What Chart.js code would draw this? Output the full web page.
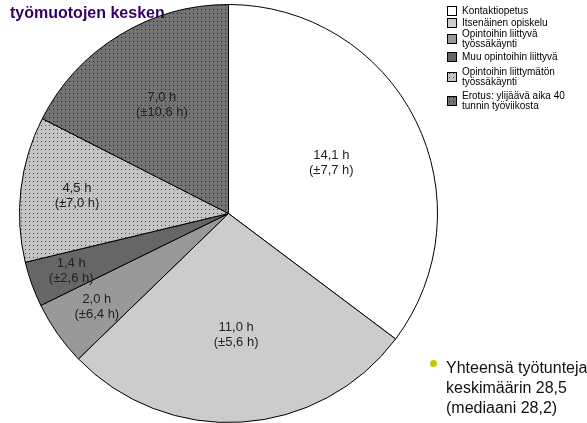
<!DOCTYPE html>
<html>
<head>
<meta charset="utf-8">
<script src="https://cdn.jsdelivr.net/npm/chart.js@4/dist/chart.umd.min.js"></script>
<style>
  html, body { margin: 0; padding: 0; background: #fff; overflow: hidden; }
  #wrap { position: relative; width: 587px; height: 423px; overflow: hidden; }
  #title {
    position: absolute; left: 10px; top: -19px; z-index: 2;
    font: bold 16px "Liberation Sans", Arial, sans-serif; line-height: 21px;
    color: #330066; white-space: nowrap;
  }
  #note {
    position: absolute; left: 446px; top: 358px; z-index: 2;
    font: 16px "Liberation Sans", Arial, sans-serif; line-height: 20px;
    color: #111; white-space: nowrap;
  }
  #dot {
    position: absolute; left: 430px; top: 360px; width: 7px; height: 7px;
    border-radius: 50%; background: #c8c800; z-index: 2;
  }
</style>
</head>
<body>
<div id="wrap">
  <div id="title">Keskimääräisen työviikon jakautuminen eri<br>työmuotojen kesken</div>
  <canvas id="chartTyomuodot" width="587" height="423"></canvas>
  <div id="dot"></div>
  <div id="note">Yhteensä työtunteja<br>keskimäärin 28,5<br>(mediaani 28,2)</div>
</div>
<script>
// Datos del gráfico
const categories = ['Kontaktiopetus', 'Itsenäinen opiskelu', 'Opintoihin liittyvä työssäkäynti',
  'Muu opintoihin liittyvä', 'Opintoihin liittymätön työssäkäynti', 'Erotus: ylijäävä aika 40 tunnin työviikosta'];
const legendLines = [
  ['Kontaktiopetus'],
  ['Itsenäinen opiskelu'],
  ['Opintoihin liittyvä', 'työssäkäynti'],
  ['Muu opintoihin liittyvä'],
  ['Opintoihin liittymätön', 'työssäkäynti'],
  ['Erotus: ylijäävä aika 40', 'tunnin työviikosta']
];
const hours = [14.1, 11.0, 2.0, 1.4, 4.5, 7.0];
const deviations = [7.7, 5.6, 6.4, 2.6, 7.0, 10.6];

const fmt = v => v.toFixed(1).replace('.', ',');

// patrón de puntos
function dotted(base, dotColor) {
  const c = document.createElement('canvas');
  c.width = 4; c.height = 4;
  const g = c.getContext('2d');
  g.fillStyle = base;
  g.fillRect(0, 0, 4, 4);
  g.fillStyle = dotColor;
  g.fillRect(1, 1, 1, 1);
  return g.createPattern(c, 'repeat');
}

const ctx = document.getElementById('chartTyomuodot').getContext('2d');
const fills = ['#ffffff', '#cccccc', '#999999', '#666666',
  dotted('#c4c4c4', '#444444'), dotted('#737373', '#222222')];

// etiquetas dentro de los sectores
const sliceLabels = {
  id: 'sliceLabels',
  afterDatasetsDraw(chart, args, opts) {
    const c = chart.ctx;
    const meta = chart.getDatasetMeta(0);
    c.save();
    c.font = '13px "Liberation Sans", Arial, sans-serif';
    c.fillStyle = '#222';
    c.textAlign = 'center';
    c.textBaseline = 'middle';
    meta.data.forEach((arc, i) => {
      const p = arc.getProps(['x', 'y', 'startAngle', 'endAngle', 'outerRadius'], true);
      const mid = (p.startAngle + p.endAngle) / 2;
      const r = p.outerRadius * opts.radius[i];
      const x = p.x + Math.cos(mid) * r;
      const y = p.y + Math.sin(mid) * r;
      c.fillText(fmt(hours[i]) + ' h', x, y - 7);
      c.fillText('(±' + fmt(deviations[i]) + ' h)', x, y + 8);
    });
    c.restore();
  }
};

// leyenda propia con etiquetas de dos líneas
const boxLegend = {
  id: 'boxLegend',
  afterDraw(chart, args, opts) {
    const c = chart.ctx;
    const ds = chart.data.datasets[0];
    c.save();
    c.font = '10px "Liberation Sans", Arial, sans-serif';
    c.textBaseline = 'middle';
    legendLines.forEach((lines, i) => {
      const cy = opts.rows[i];
      c.fillStyle = ds.backgroundColor[i];
      c.fillRect(opts.x, cy - 5, 10, 10);
      c.strokeStyle = '#000';
      c.lineWidth = 1;
      c.strokeRect(opts.x + 0.5, cy - 4.5, 9, 9);
      c.fillStyle = '#000';
      const top = cy - (lines.length - 1) * 4.75;
      lines.forEach((t, j) => c.fillText(t, opts.x + 15, top + j * 9.5));
    });
    c.restore();
  }
};

new Chart(ctx, {
  type: 'pie',
  data: {
    labels: categories,
    datasets: [{
      data: hours,
      backgroundColor: fills,
      borderColor: '#000',
      borderWidth: 1
    }]
  },
  options: {
    responsive: false,
    animation: false,
    layout: { padding: { left: 18, top: 4, right: 148, bottom: 0 } },
    plugins: {
      legend: { display: false },
      tooltip: { enabled: false },
      sliceLabels: { radius: [0.55, 0.58, 0.77, 0.8, 0.73, 0.61] },
      boxLegend: { x: 447, rows: [11, 23, 39, 57, 77, 101] }
    }
  },
  plugins: [sliceLabels, boxLegend]
});
</script>
</body>
</html>
